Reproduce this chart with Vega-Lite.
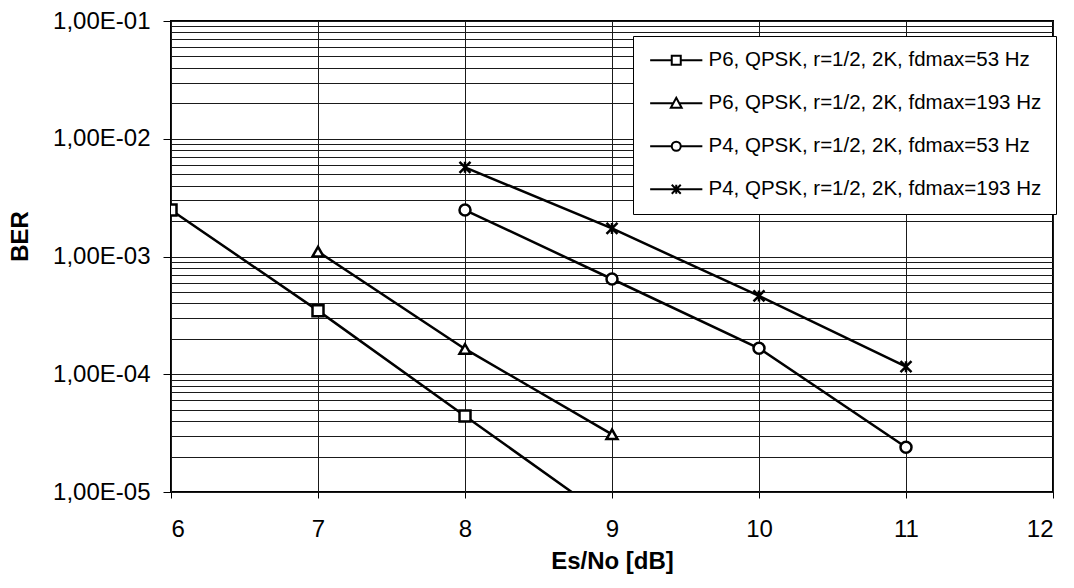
{
  "$schema": "https://vega.github.io/schema/vega-lite/v6.json",
  "width": 882,
  "height": 471,
  "autosize": {"type": "none"},
  "padding": {"left": 171, "top": 21, "right": 21, "bottom": 96},
  "background": "white",
  "config": {
    "view": {"stroke": "black", "strokeWidth": 2},
    "font": "Liberation Sans",
    "axis": {"domain": false, "gridColor": "#1a1a1a", "gridWidth": 1, "gridOpacity": 1, "tickColor": "black", "tickWidth": 1, "labelFont": "Liberation Sans", "labelFontSize": 24, "labelColor": "black", "titleFont": "Liberation Sans", "titleFontSize": 24, "titleFontWeight": "bold", "titleColor": "black"}
  },
  "data": {
    "values": [
      {"series": "P6, QPSK, r=1/2, 2K, fdmax=53 Hz", "x": 6, "ber": 0.00248},
      {"series": "P6, QPSK, r=1/2, 2K, fdmax=53 Hz", "x": 7, "ber": 0.000347},
      {"series": "P6, QPSK, r=1/2, 2K, fdmax=53 Hz", "x": 8, "ber": 0.0000442},
      {"series": "P6, QPSK, r=1/2, 2K, fdmax=53 Hz", "x": 9, "ber": 0.0000057},
      {"series": "P6, QPSK, r=1/2, 2K, fdmax=193 Hz", "x": 7, "ber": 0.0011},
      {"series": "P6, QPSK, r=1/2, 2K, fdmax=193 Hz", "x": 8, "ber": 0.000164},
      {"series": "P6, QPSK, r=1/2, 2K, fdmax=193 Hz", "x": 9, "ber": 0.0000309},
      {"series": "P4, QPSK, r=1/2, 2K, fdmax=53 Hz", "x": 8, "ber": 0.00248},
      {"series": "P4, QPSK, r=1/2, 2K, fdmax=53 Hz", "x": 9, "ber": 0.000644},
      {"series": "P4, QPSK, r=1/2, 2K, fdmax=53 Hz", "x": 10, "ber": 0.000166},
      {"series": "P4, QPSK, r=1/2, 2K, fdmax=53 Hz", "x": 11, "ber": 0.000024},
      {"series": "P4, QPSK, r=1/2, 2K, fdmax=193 Hz", "x": 8, "ber": 0.00572},
      {"series": "P4, QPSK, r=1/2, 2K, fdmax=193 Hz", "x": 9, "ber": 0.00173},
      {"series": "P4, QPSK, r=1/2, 2K, fdmax=193 Hz", "x": 10, "ber": 0.000462},
      {"series": "P4, QPSK, r=1/2, 2K, fdmax=193 Hz", "x": 11, "ber": 0.000116}
    ]
  },
  "encoding": {
    "x": {
      "field": "x", "type": "quantitative",
      "scale": {"domain": [6, 12], "nice": false, "zero": false},
      "axis": {"values": [6, 7, 8, 9, 10, 11, 12], "format": "d", "grid": true, "tickSize": 6, "labelPadding": 38, "labelBaseline": "alphabetic", "title": "Es/No [dB]", "titleBaseline": "alphabetic", "titleY": 76}
    },
    "y": {
      "field": "ber", "type": "quantitative",
      "scale": {"type": "log", "domain": [0.00001, 0.1], "nice": false},
      "axis": {
        "values": [0.00001, 0.00002, 0.00003, 0.00004, 0.00005, 0.00006, 0.00007, 0.00008, 0.00009, 0.0001, 0.0002, 0.0003, 0.0004, 0.0005, 0.0006, 0.0007, 0.0008, 0.0009, 0.001, 0.002, 0.003, 0.004, 0.005, 0.006, 0.007, 0.008, 0.009, 0.01, 0.02, 0.03, 0.04, 0.05, 0.06, 0.07, 0.08, 0.09, 0.1],
        "labelExpr": "abs(log(datum.value)/LN10 - round(log(datum.value)/LN10)) < 0.001 ? '1,00E-0' + (-round(log(datum.value)/LN10)) : ''",
        "labelOverlap": false,
        "labelPadding": 13,
        "tickSize": 8,
        "tickOpacity": {"condition": {"test": "abs(log(datum.value)/LN10 - round(log(datum.value)/LN10)) < 0.001", "value": 1}, "value": 0},
        "grid": true,
        "title": "BER",
        "titleAngle": 270,
        "titleBaseline": "middle",
        "titleX": -151,
        "titleY": 215
      }
    }
  },
  "layer": [
    {
      "mark": {"type": "line", "stroke": "black", "strokeWidth": 2.5, "clip": true},
      "encoding": {"detail": {"field": "series"}}
    },
    {
      "mark": {"type": "point", "filled": true, "fill": "white", "stroke": "black", "strokeWidth": 2.5, "size": 121, "opacity": 1, "clip": true},
      "encoding": {
        "shape": {
          "field": "series", "type": "nominal",
          "scale": {
            "domain": ["P6, QPSK, r=1/2, 2K, fdmax=53 Hz", "P6, QPSK, r=1/2, 2K, fdmax=193 Hz", "P4, QPSK, r=1/2, 2K, fdmax=53 Hz", "P4, QPSK, r=1/2, 2K, fdmax=193 Hz"],
            "range": ["square", "triangle-up", "circle", "M-1,-1L1,1M-1,1L1,-1M0,-1V1"]
          },
          "legend": null
        }
      }
    },
    {
      "transform": [{"filter": "false"}],
      "mark": {"type": "point", "filled": false, "color": "black", "strokeWidth": 2, "opacity": 1},
      "encoding": {
        "shape": {
          "field": "series", "type": "nominal",
          "scale": {
            "domain": ["P6, QPSK, r=1/2, 2K, fdmax=53 Hz", "P6, QPSK, r=1/2, 2K, fdmax=193 Hz", "P4, QPSK, r=1/2, 2K, fdmax=53 Hz", "P4, QPSK, r=1/2, 2K, fdmax=193 Hz"],
            "range": [
              "M-5.8,0H-1M1,0H5.8M-1,-1H1V1H-1Z",
              "M-5.8,0H-0.65M0.65,0H5.8M0,-1.2L1.2,1L-1.2,1Z",
              "M-5.8,0H-1M1,0H5.8M-1,0A1,1 0 1,0 1,0A1,1 0 1,0 -1,0Z",
              "M-5.8,0H5.8M-1,-1L1,1M-1,1L1,-1M0,-1V1"
            ]
          },
          "legend": {
            "title": null,
            "orient": "none",
            "legendX": 462,
            "legendY": 15,
            "labelFont": "Liberation Sans",
            "labelFontSize": 20.5,
            "labelColor": "black",
            "labelLimit": 0,
            "labelOffset": 22,
            "symbolOffset": 19,
            "fillColor": "white",
            "strokeColor": "black",
            "padding": 14,
            "symbolSize": 81,
            "symbolStrokeWidth": 2,
            "rowPadding": 22
          }
        }
      }
    }
  ],
  "resolve": {"scale": {"shape": "independent"}}
}
